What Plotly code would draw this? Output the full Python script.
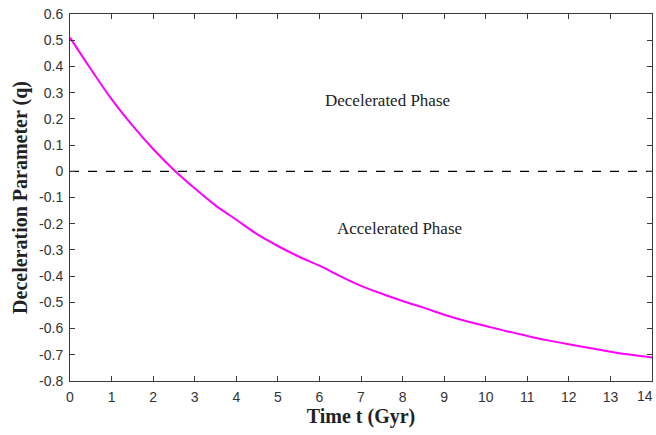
import plotly.graph_objects as go

time_gyr = [0, 0.5, 1, 1.5, 2, 2.5, 3, 3.5, 4, 4.5, 5, 5.5, 6, 6.5, 7,
            7.5, 8, 8.5, 9, 9.5, 10, 10.5, 11, 11.5, 12, 12.5, 13, 13.5, 14]
q_values = [0.51, 0.39, 0.275, 0.175, 0.085, 0.005, -0.065, -0.13, -0.185,
            -0.24, -0.285, -0.325, -0.36, -0.40, -0.437, -0.467, -0.495,
            -0.52, -0.547, -0.57, -0.59, -0.61, -0.628, -0.645, -0.66,
            -0.674, -0.688, -0.70, -0.71]
x_ticks = list(range(0, 14))
y_ticks = [0.6, 0.5, 0.4, 0.3, 0.2, 0.1, 0, -0.1, -0.2, -0.3, -0.4, -0.5, -0.6, -0.7, -0.8]
y_tick_text = ["0.6", "0.5", "0.4", "0.3", "0.2", "0.1", "0", "-0.1", "-0.2",
               "-0.3", "-0.4", "-0.5", "-0.6", "-0.7", "-0.8"]

tick_font = dict(family="Liberation Sans, Arial", size=14, color="#333")
serif = "Liberation Serif, Times New Roman"

fig = go.Figure()
fig.add_trace(go.Scatter(x=[0, 14], y=[0, 0], mode="lines",
                         line=dict(color="black", width=1.2, dash="dash"),
                         showlegend=False, hoverinfo="skip"))
fig.add_trace(go.Scatter(x=time_gyr, y=q_values, mode="lines",
                         line=dict(color="#ff00ff", width=2, shape="spline"),
                         showlegend=False))

axis_common = dict(showline=True, mirror="ticks", linecolor="#3a3a3a", linewidth=1,
                   ticks="inside", ticklen=5, tickcolor="#3a3a3a", showgrid=False,
                   zeroline=False, tickfont=tick_font)

fig.update_layout(
    width=656, height=435,
    margin=dict(l=70, r=4, t=14, b=54),
    paper_bgcolor="white", plot_bgcolor="white",
    xaxis=dict(range=[0, 14], tickvals=x_ticks + [14], ticktext=[str(v) for v in x_ticks] + [""],
               ticklabelstandoff=3,
               title=dict(text="<b>Time t (Gyr)</b>", standoff=4,
                          font=dict(family=serif, size=20, color="#222")),
               **axis_common),
    yaxis=dict(range=[-0.8, 0.6], tickvals=y_ticks, ticktext=y_tick_text,
               ticklabelstandoff=3,
               title=dict(text="<b>Deceleration Parameter (q)</b>", standoff=6,
                          font=dict(family=serif, size=20, color="#222")),
               **axis_common),
    annotations=[
        dict(x=7.64, y=0.27, text="Decelerated Phase", showarrow=False,
             font=dict(family=serif, size=17, color="#222")),
        dict(x=7.93, y=-0.218, text="Accelerated Phase", showarrow=False,
             font=dict(family=serif, size=17, color="#222")),
        dict(x=14, y=0, xref="x", yref="paper", xanchor="right", yanchor="top",
             xshift=3, yshift=-5, text="14", showarrow=False, font=tick_font),
    ],
)

fig.write_html("out.html")
